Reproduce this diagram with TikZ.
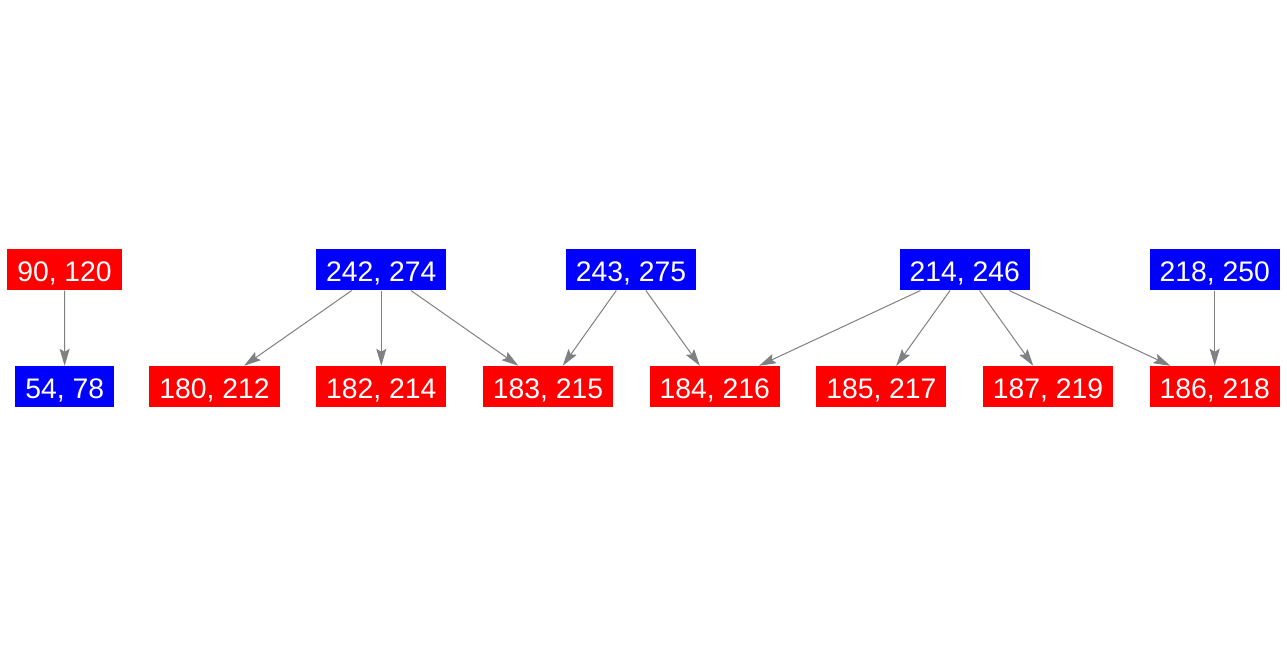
\documentclass[tikz,border=0pt]{standalone}
\usepackage{fontspec}
\setmainfont{Liberation Sans}
\usetikzlibrary{arrows.meta}
\definecolor{nred}{HTML}{FF0000}
\definecolor{nblue}{HTML}{0000FF}
\definecolor{egray}{HTML}{808080}
\tikzset{
  box/.style={inner xsep=10pt, inner ysep=0pt, minimum height=41pt, text=white,
    text height=24.3pt, text depth=0pt,
    font=\fontsize{28.3}{34}\selectfont, anchor=center},
  redbox/.style={box, fill=nred},
  bluebox/.style={box, fill=nblue},
  edge/.style={draw=egray, line width=1pt, -{Stealth[length=17pt,width=10pt,inset=3pt]}}
}
\begin{document}
\begin{tikzpicture}[x=1pt,y=-1pt]
\useasboundingbox (0,0) rectangle (1287,656);
\node[redbox]  (n90)  at (64.5,269.8) {90, 120};
\node[bluebox] (n54)  at (64.7,386.5) {54, 78};
\node[bluebox] (n242) at (381.3,269.8) {242, 274};
\node[bluebox] (n243) at (631,269.8) {243, 275};
\node[bluebox] (n214) at (964.8,269.8) {214, 246};
\node[bluebox] (n218) at (1214.7,269.8) {218, 250};
\node[redbox] (n180) at (214.5,386.5) {180, 212};
\node[redbox] (n182) at (381.3,386.5) {182, 214};
\node[redbox] (n183) at (548,386.5) {183, 215};
\node[redbox] (n184) at (714.7,386.5) {184, 216};
\node[redbox] (n185) at (881.4,386.5) {185, 217};
\node[redbox] (n187) at (1048,386.5) {187, 219};
\node[redbox] (n186) at (1214.7,386.5) {186, 218};
\draw[edge] (n90) -- (n54);
\draw[edge] (n242) -- (n180);
\draw[edge] (n242) -- (n182);
\draw[edge] (n242) -- (n183);
\draw[edge] (n243) -- (n183);
\draw[edge] (n243) -- (n184);
\draw[edge] (n214) -- (n184);
\draw[edge] (n214) -- (n185);
\draw[edge] (n214) -- (n187);
\draw[edge] (n214) -- (n186);
\draw[edge] (n218) -- (n186);
\end{tikzpicture}
\end{document}
